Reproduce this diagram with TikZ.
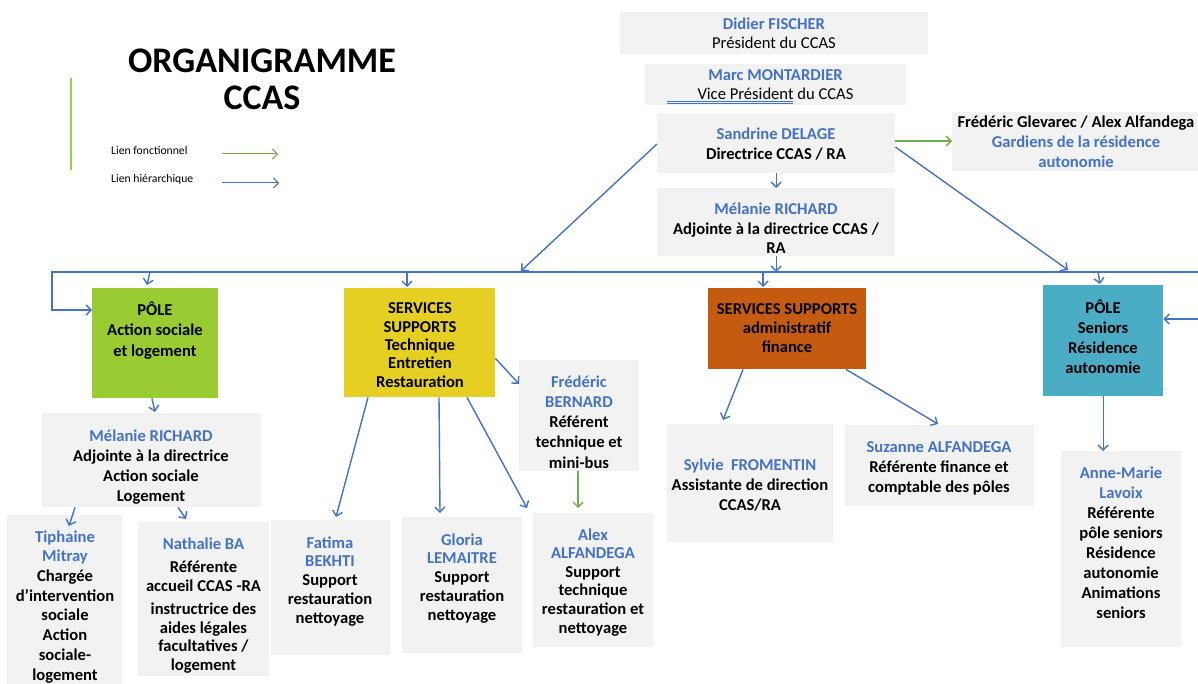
\documentclass[tikz,border=0pt]{standalone}
\usepackage{fontspec}
\setmainfont{Carlito}
\usetikzlibrary{arrows.meta}
\definecolor{namecol}{HTML}{4472C4}
\definecolor{boxgray}{HTML}{F2F2F2}
\definecolor{linkblue}{HTML}{4472C4}
\definecolor{linkgreen}{HTML}{70AD47}
\definecolor{legendgreen}{HTML}{92D050}
\definecolor{polegreen}{HTML}{99CC33}
\definecolor{poleyellow}{HTML}{E5CF22}
\definecolor{poleorange}{HTML}{C55A11}
\definecolor{poleblue}{HTML}{4BACC6}
\newcommand\fs[1]{\fontsize{16.6}{#1}\selectfont\bfseries}
\begin{document}
\begin{tikzpicture}[x=1pt,y=-1pt,
  box/.style={fill=boxgray, draw=none, inner sep=0pt, anchor=north west},
  txt/.style={anchor=base, align=center, inner sep=0pt, yshift=-2pt, font=\fs{19.5}},
  hier/.style={draw=linkblue, line width=1.4pt, -{Straight Barb[length=5pt,width=10pt]}},
  fonc/.style={draw=linkgreen, line width=1.4pt, -{Straight Barb[length=5pt,width=10pt]}},
  legarrow/.style={line width=1pt, -{Straight Barb[length=5pt,width=10pt]}}]
\clip (0,0) rectangle (1198,684);
\fill[white] (0,0) rectangle (1198,684);

% title and legend
\node[anchor=base, align=center, inner sep=0pt, font=\fontsize{36}{37}\selectfont\bfseries] (title) at (262,110) {ORGANIGRAMME\\CCAS};
\coordinate (vl1) at (71,78);
\coordinate (vl2) at (71,170);
\draw[draw=legendgreen, line width=1.5pt] (vl1) -- (vl2);
\node[anchor=base west, inner sep=0pt, font=\fontsize{11.7}{13}\selectfont] (lf) at (111,155) {Lien fonctionnel};
\node[anchor=base west, inner sep=0pt, font=\fontsize{11.7}{13}\selectfont] (lh) at (111,183) {Lien hiérarchique};
\coordinate (lfa) at (222,154);
\coordinate (lfb) at (278,154);
\coordinate (lha) at (222,183);
\coordinate (lhb) at (279,183);
\draw[legarrow, draw=linkgreen] (lfa) -- (lfb);
\draw[legarrow, draw=linkblue] (lha) -- (lhb);

% gray boxes
\node[box, minimum width=308pt, minimum height=42pt] (didier) at (620,12) {};
\node[box, minimum width=261pt, minimum height=41pt] (marc) at (645,64) {};
\node[box, minimum width=238pt, minimum height=59pt] (sandrine) at (657,114) {};
\node[box, minimum width=246pt, minimum height=59pt] (gardiens) at (952,112) {};
\node[box, minimum width=238pt, minimum height=68pt] (melanie1) at (657,188) {};
\node[box, minimum width=120pt, minimum height=111pt] (fbernard) at (519,360) {};
\node[box, minimum width=219pt, minimum height=94pt] (melanie2) at (42,413) {};
\node[box, minimum width=166pt, minimum height=118pt] (sylvie) at (667,424) {};
\node[box, minimum width=189pt, minimum height=81pt] (suzanne) at (845,425) {};
\node[box, minimum width=120pt, minimum height=196pt] (annemarie) at (1061,451) {};
\node[box, minimum width=115pt, minimum height=180pt] (tiphaine) at (7,515) {};
\node[box, minimum width=131pt, minimum height=154pt] (nathalie) at (138,522) {};
\node[box, minimum width=119pt, minimum height=135pt] (fatima) at (271,520) {};
\node[box, minimum width=120pt, minimum height=136pt] (gloria) at (402,517) {};
\node[box, minimum width=120pt, minimum height=134pt] (alex) at (533,513) {};

% coloured poles
\node[box, fill=polegreen, minimum width=126pt, minimum height=110pt] (pgreen) at (92,288) {};
\node[box, fill=poleyellow, minimum width=151pt, minimum height=109pt] (yellow) at (344,288) {};
\node[box, fill=poleorange, minimum width=158pt, minimum height=81pt] (orange) at (708,288) {};
\node[box, fill=poleblue, minimum width=120pt, minimum height=111pt] (pblue) at (1043,285) {};

% texts (anchor = baseline of the last line)
\node[txt, font=\fs{19}] (didierT) at (774,47) {{\color{namecol}Didier FISCHER}\\{\mdseries Président du CCAS}};
\node[txt, font=\fs{19}] (marcT) at (775.5,98) {{\color{namecol}Marc MONTARDIER}\\{\mdseries Vice Président du CCAS}};
\draw[draw=namecol, line width=0.6pt] (667,101) -- (793,101);
\draw[draw=namecol, line width=0.6pt] (667,103) -- (793,103);
\node[txt, font=\fs{20}] (sandrineT) at (776,158) {{\color{namecol}Sandrine DELAGE}\\Directrice CCAS / RA};
\node[txt, font=\fs{20}] (gardiensT) at (1076,166) {Frédéric Glevarec / Alex Alfandega\\{\color{namecol}Gardiens de la résidence}\\{\color{namecol}autonomie}};
\node[txt, font=\fs{19.5}] (melanie1T) at (776,252) {{\color{namecol}Mélanie RICHARD}\\Adjointe à la directrice CCAS /\\RA};
\node[txt, font=\fs{20.5}] (pgreenT) at (155,354) {PÔLE\\Action sociale\\et logement};
\node[txt, font=\fs{18.3}] (yellowT) at (420,385) {SERVICES\\SUPPORTS\\Technique\\Entretien\\Restauration};
\node[txt, font=\fs{19}] (orangeT) at (787,350) {SERVICES SUPPORTS\\administratif\\finance};
\node[txt, font=\fs{20}] (pblueT) at (1103,371) {PÔLE\\Seniors\\Résidence\\autonomie};
\node[txt, font=\fs{20.2}] (fbernardT) at (579,466) {{\color{namecol}Frédéric}\\{\color{namecol}BERNARD}\\Référent\\technique et\\mini-bus};
\node[txt, font=\fs{19.7}] (melanie2T) at (151,499) {{\color{namecol}Mélanie RICHARD}\\Adjointe à la directrice\\Action sociale\\Logement};
\node[txt, font=\fs{20}] (sylvieT) at (750,508) {{\color{namecol}Sylvie\ \ FROMENTIN}\\Assistante de direction\\CCAS/RA};
\node[txt, font=\fs{20}] (suzanneT) at (939,490) {{\color{namecol}Suzanne ALFANDEGA}\\Référente finance et\\comptable des pôles};
\node[txt, font=\fs{20}] (annemarieT) at (1121,616) {{\color{namecol}Anne-Marie}\\{\color{namecol}Lavoix}\\Référente\\pôle seniors\\Résidence\\autonomie\\Animations\\seniors};
\node[txt, font=\fs{19.7}] (tiphaineT) at (65,678) {{\color{namecol}Tiphaine}\\{\color{namecol}Mitray}\\Chargée\\d’intervention\\sociale\\Action\\sociale-\\logement};
\node[txt, font=\fs{18.5}] (nathalieT) at (203.5,668) {{\color{namecol}Nathalie BA}\\[5pt]Référente\\accueil CCAS -RA\\[5pt]instructrice des\\aides légales\\facultatives /\\logement};
\node[txt, font=\fs{18.7}] (fatimaT) at (330,621) {{\color{namecol}Fatima}\\{\color{namecol}BEKHTI}\\Support\\restauration\\nettoyage};
\node[txt, font=\fs{18.7}] (gloriaT) at (462,618) {{\color{namecol}Gloria}\\{\color{namecol}LEMAITRE}\\Support\\restauration\\nettoyage};
\node[txt, font=\fs{18.6}] (alexT) at (593,631) {{\color{namecol}Alex}\\{\color{namecol}ALFANDEGA}\\Support\\technique\\restauration et\\nettoyage};

% connectors
\coordinate (hl) at (52,272);
\coordinate (hr) at (1198,272);
\coordinate (rr) at (1198,319);
\coordinate (dl) at (521,271);
\coordinate (dr) at (1068,270);
\draw[hier] (hr) -- (hl) |- ([yshift=-22pt]pgreen.north west);
\draw[hier] (sandrine.south) -- (melanie1.north);
\draw[hier] (melanie1.south) -- (melanie1.south |- hl);
\draw[hier] ([yshift=-30pt]sandrine.north west) -- (dl);
\draw[hier] ([yshift=-33pt]sandrine.north east) -- (dr);
\draw[fonc] ([yshift=-27pt]sandrine.north east) -- ([yshift=-27pt]sandrine.north east -| gardiens.west);
\draw[hier] ([xshift=58pt]pgreen.north west |- hl) -- ([xshift=55pt,yshift=3pt]pgreen.north west);
\draw[hier] ([xshift=63pt]yellow.north west |- hl) -- ([xshift=63pt,yshift=1pt]yellow.north west);
\draw[hier] ([xshift=55pt]orange.north west |- hl) -- ([xshift=55pt,yshift=1pt]orange.north west);
\draw[hier] ([xshift=55pt]pblue.north west |- hl) -- ([xshift=57pt,yshift=1pt]pblue.north west);
\draw[hier] (rr) -- (rr -| pblue.east);
\draw[hier] ([xshift=60pt]pgreen.south west) -- ([xshift=113pt,yshift=1pt]melanie2.north west);
\draw[hier] ([xshift=33pt]melanie2.south west) -- ([xshift=62pt,yshift=-11pt]tiphaine.north west);
\draw[hier] ([xshift=136pt]melanie2.south west) -- ([xshift=48pt,yshift=3pt]nathalie.north west);
\draw[hier] ([yshift=39pt]yellow.south east) -- ([yshift=-24pt]fbernard.north west);
\draw[hier] ([xshift=24pt]yellow.south west) -- ([xshift=65pt,yshift=3pt]fatima.north west);
\draw[hier] ([xshift=95pt]yellow.south west) -- ([xshift=38pt,yshift=4pt]gloria.north west);
\draw[hier] ([xshift=123pt]yellow.south west) -- ([xshift=-6pt,yshift=5pt]alex.north west);
\draw[fonc] ([xshift=59pt]fbernard.south west) -- ([xshift=45pt,yshift=5pt]alex.north west);
\draw[hier] ([xshift=35pt]orange.south west) -- ([xshift=56pt,yshift=4pt]sylvie.north west);
\draw[hier] ([xshift=138pt]orange.south west) -- ([xshift=93pt,yshift=1pt]suzanne.north west);
\draw[hier] (pblue.south) -- (pblue.south |- annemarie.north);
\end{tikzpicture}
\end{document}
